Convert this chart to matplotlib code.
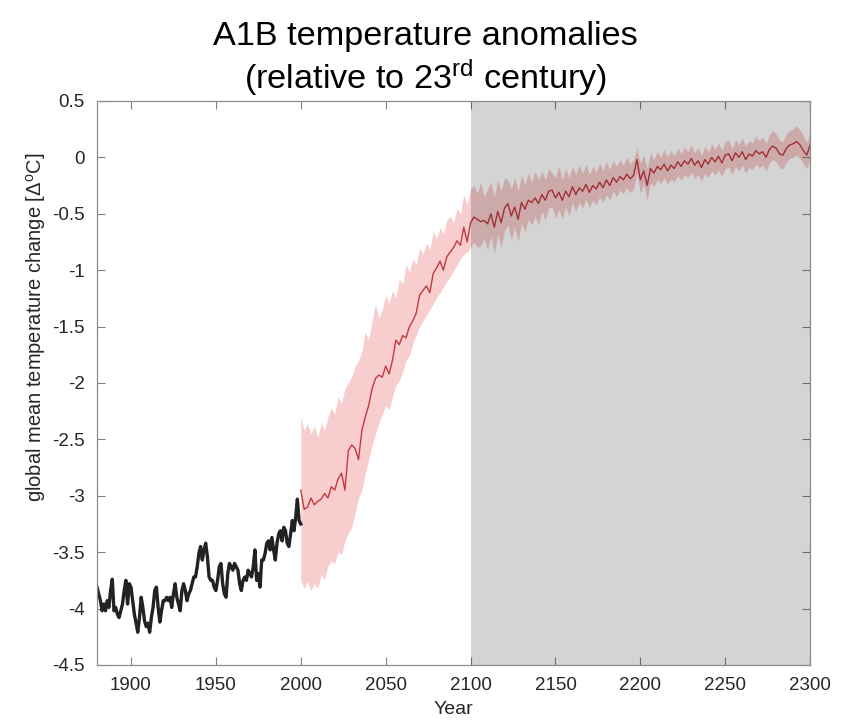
import matplotlib
matplotlib.use('Agg')
import matplotlib.pyplot as plt
import numpy as np
from matplotlib.ticker import FuncFormatter

plt.rcParams['font.family'] = ['Liberation Sans', 'DejaVu Sans']
plt.rcParams['mathtext.fontset'] = 'custom'
plt.rcParams['mathtext.rm'] = 'Liberation Sans'
plt.rcParams['mathtext.it'] = 'Liberation Sans:italic'
plt.rcParams['axes.unicode_minus'] = False

# observed record, annual, 1880-2000
obs_years = np.arange(1880, 2001)
obs_temp = [
    -3.81, -3.87, -3.93, -4.02, -3.96, -4.02, -3.93, -3.99, -3.84, -3.74,
    -4.02, -3.99, -4.05, -4.08, -4.02, -3.96, -3.84, -3.75, -3.96, -3.78,
    -3.81, -3.93, -4.05, -4.13, -4.21, -4.08, -3.90, -3.99, -4.11, -4.16,
    -4.13, -4.21, -4.08, -3.99, -3.84, -3.81, -3.99, -4.12, -4.02, -3.93,
    -3.93, -3.90, -3.93, -3.90, -3.99, -3.87, -3.78, -3.90, -3.96, -4.02,
    -3.84, -3.78, -3.84, -3.93, -3.87, -3.84, -3.78, -3.72, -3.72, -3.63,
    -3.51, -3.45, -3.57, -3.48, -3.42, -3.54, -3.72, -3.75, -3.75, -3.81,
    -3.84, -3.75, -3.63, -3.60, -3.78, -3.87, -3.90, -3.69, -3.60, -3.63,
    -3.66, -3.60, -3.63, -3.66, -3.78, -3.84, -3.75, -3.72, -3.75, -3.66,
    -3.69, -3.72, -3.63, -3.48, -3.75, -3.69, -3.81, -3.57, -3.57, -3.51,
    -3.42, -3.40, -3.48, -3.37, -3.48, -3.57, -3.42, -3.34, -3.31, -3.40,
    -3.28, -3.31, -3.42, -3.45, -3.34, -3.22, -3.31, -3.19, -3.03, -3.22,
    -3.25,
]

# A1B ensemble mean and spread, every 2 years, 2000-2300
a1b_years = np.arange(2000, 2301, 2)
a1b_mean = [
    -2.95, -3.12, -3.10, -3.02, -3.08, -3.05, -3.03, -2.98, -3.02, -2.92,
    -2.95, -2.85, -2.80, -2.95, -2.60, -2.55, -2.58, -2.68, -2.42, -2.30,
    -2.20, -2.05, -1.96, -1.93, -1.95, -1.85, -1.92, -1.80, -1.62, -1.66,
    -1.58, -1.60, -1.50, -1.45, -1.38, -1.22, -1.18, -1.14, -1.20, -1.03,
    -0.98, -0.92, -1.00, -0.88, -0.84, -0.80, -0.74, -0.78, -0.62, -0.75,
    -0.58,
    -0.53, -0.55, -0.57, -0.56, -0.59, -0.50, -0.62, -0.48, -0.58, -0.45,
    -0.41, -0.52, -0.44, -0.55, -0.40, -0.46, -0.38, -0.40, -0.36, -0.41,
    -0.33, -0.38, -0.30, -0.29, -0.36, -0.31, -0.38, -0.30, -0.35, -0.26,
    -0.33, -0.27, -0.30, -0.24, -0.31, -0.25, -0.28, -0.22, -0.27, -0.20,
    -0.25, -0.18, -0.22, -0.17, -0.20, -0.15, -0.19, -0.16, -0.02, -0.20,
    -0.12, -0.25, -0.10, -0.14, -0.08, -0.11, -0.06, -0.12, -0.07, -0.10,
    -0.04, -0.08, -0.03, -0.06, -0.01, -0.07, -0.03, -0.09, -0.02, -0.06,
    0.00, -0.04, 0.01, -0.05, 0.02, 0.03, -0.03, 0.04, 0.00, 0.05,
    -0.02, 0.03, 0.01, 0.06, 0.03, 0.05, 0.00, 0.07, 0.10, 0.08,
    0.03, 0.02, 0.08, 0.11, 0.12, 0.14, 0.11, 0.06, 0.02, 0.11,
]
a1b_upper = [
    -2.30, -2.42, -2.36, -2.45, -2.38, -2.48, -2.36, -2.42, -2.30, -2.22,
    -2.28, -2.12, -2.18, -2.05, -2.00, -1.95, -1.85, -1.80, -1.72, -1.55,
    -1.62, -1.45, -1.30, -1.42, -1.35, -1.22, -1.30, -1.18, -1.25, -1.08,
    -1.12, -0.95, -1.02, -0.90, -0.95, -0.80, -0.86, -0.76, -0.82, -0.66,
    -0.72, -0.62, -0.68, -0.56, -0.52, -0.58, -0.45, -0.50, -0.33, -0.42,
    -0.28,
    -0.25, -0.32, -0.22, -0.35, -0.28, -0.22, -0.35, -0.20, -0.30, -0.18,
    -0.20, -0.28, -0.18, -0.30, -0.16, -0.24, -0.14, -0.22, -0.12, -0.20,
    -0.12, -0.20, -0.10, -0.14, -0.18, -0.08, -0.20, -0.10, -0.18, -0.08,
    -0.15, -0.07, -0.14, -0.06, -0.15, -0.08, -0.13, -0.05, -0.12, -0.04,
    -0.11, -0.03, -0.08, -0.02, -0.07, 0.00, -0.06, -0.02, 0.08, -0.05,
    0.02, -0.10, 0.04, -0.02, 0.05, 0.00, 0.07, 0.00, 0.06, 0.01,
    0.08, 0.03, 0.09, 0.05, 0.11, 0.04, 0.09, 0.02, 0.10, 0.05,
    0.12, 0.07, 0.13, 0.06, 0.14, 0.15, 0.08, 0.16, 0.11, 0.17,
    0.10, 0.15, 0.13, 0.19, 0.15, 0.18, 0.12, 0.20, 0.24, 0.21,
    0.15, 0.14, 0.21, 0.24, 0.25, 0.28, 0.24, 0.19, 0.13, 0.22,
]
a1b_lower = [
    -3.75, -3.82, -3.76, -3.84, -3.78, -3.82, -3.70, -3.74, -3.62, -3.58,
    -3.60, -3.50, -3.52, -3.40, -3.33, -3.28, -3.15, -3.02, -2.95, -2.80,
    -2.68, -2.55, -2.45, -2.35, -2.28, -2.20, -2.24, -2.12, -2.02, -1.98,
    -1.90, -1.80, -1.76, -1.65, -1.58, -1.50, -1.45, -1.40, -1.35, -1.30,
    -1.24, -1.20, -1.15, -1.10, -1.06, -1.00, -0.96, -0.90, -0.86, -0.84,
    -0.80,
    -0.75, -0.80, -0.78, -0.72, -0.82, -0.70, -0.85, -0.68, -0.80, -0.65,
    -0.60, -0.74, -0.62, -0.75, -0.58, -0.66, -0.55, -0.60, -0.52, -0.60,
    -0.48, -0.56, -0.45, -0.44, -0.54, -0.46, -0.55, -0.44, -0.52, -0.40,
    -0.48, -0.40, -0.45, -0.37, -0.45, -0.38, -0.42, -0.35, -0.40, -0.33,
    -0.38, -0.30, -0.35, -0.29, -0.32, -0.27, -0.31, -0.28, -0.14, -0.32,
    -0.24, -0.38, -0.22, -0.26, -0.20, -0.23, -0.18, -0.24, -0.19, -0.22,
    -0.16, -0.20, -0.15, -0.18, -0.13, -0.19, -0.15, -0.21, -0.14, -0.18,
    -0.12, -0.16, -0.11, -0.17, -0.10, -0.09, -0.15, -0.08, -0.12, -0.07,
    -0.14, -0.09, -0.11, -0.06, -0.09, -0.07, -0.12, -0.05, -0.02, -0.04,
    -0.09, -0.10, -0.04, -0.01, 0.00, 0.02, -0.01, -0.06, -0.10, -0.01,
]

x_ticks = [1900, 1950, 2000, 2050, 2100, 2150, 2200, 2250, 2300]
y_ticks = [0.5, 0, -0.5, -1, -1.5, -2, -2.5, -3, -3.5, -4, -4.5]

fig = plt.figure(figsize=(8.51, 7.25), dpi=100)
ax = fig.add_axes([0.114, 0.0828, 0.838, 0.778])

ax.fill_between(a1b_years, a1b_lower, a1b_upper, color='#e03030', alpha=0.24,
                linewidth=0, zorder=1)
ax.plot(a1b_years, a1b_mean, color='#c23a40', linewidth=1.0, zorder=2)
ax.plot(obs_years, obs_temp, color='#222222', linewidth=2.4, zorder=3)
ax.axvspan(2100, 2300, color='black', alpha=0.17, linewidth=0, zorder=4)

ax.set_xlim(1880, 2300)
ax.set_ylim(-4.5, 0.5)
ax.set_xticks(x_ticks)
ax.set_yticks(y_ticks)
ax.yaxis.set_major_formatter(FuncFormatter(lambda v, p: '%g' % v))
ax.tick_params(direction='in', length=6, width=0.8, color='#808080',
               labelsize=13.5, labelcolor='#262626', top=True, right=True)
ax.tick_params(axis='y', pad=9)
ax.tick_params(axis='x', pad=9)
for s in ax.spines.values():
    s.set_color('#8c8c8c')
    s.set_linewidth(0.9)
    s.set_zorder(5)

ax.set_xlabel('Year', fontsize=14, color='#262626', labelpad=5)
fig.text(0.042, 0.549, r'global mean temperature change [$\Delta^{\rm o}$C]',
         rotation=90, ha='center', va='center', fontsize=14.5, color='#262626')

fig.text(0.5, 0.949, 'A1B temperature anomalies', ha='center', va='center',
         fontsize=24.7)
fig.text(0.5, 0.893, r'(relative to 23$^{\rm rd}$ century)', ha='center',
         va='center', fontsize=24.7)

fig.savefig('out.png', dpi=100)
